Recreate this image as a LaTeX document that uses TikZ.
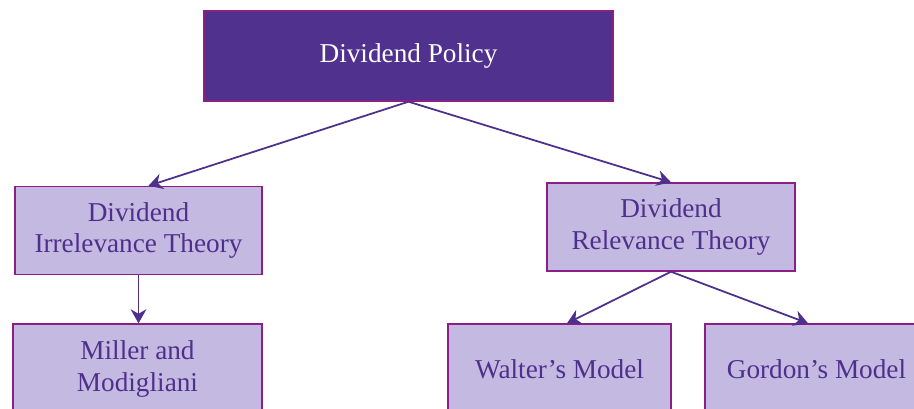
\documentclass[tikz,border=0pt]{standalone}
\usepackage{fontspec}
\setmainfont{Liberation Serif}
\usetikzlibrary{arrows.meta}
\definecolor{topfill}{HTML}{50318E}
\definecolor{boxfill}{HTML}{C4BAE1}
\definecolor{boxline}{HTML}{8A1F86}
\definecolor{inkpurple}{HTML}{4F2F8C}
\tikzset{
  topbox/.style = {draw=boxline, fill=topfill, text=white, line width=0.8pt,
    minimum width=8.18cm, minimum height=1.8cm, align=center, font=\fontsize{15.5}{18}\selectfont},
  subbox/.style = {draw=boxline, fill=boxfill, text=inkpurple, line width=0.8pt,
    minimum height=1.76cm, align=center, font=\fontsize{15.5}{18}\selectfont},
  link/.style = {draw=inkpurple, line width=1pt, -{Stealth[length=8pt,width=9pt]}}
}
\begin{document}
\begin{tikzpicture} [scale = 1]
\useasboundingbox (0.0, 0.0) rectangle (18.28, -8.18);
\clip (0.0, 0.0) rectangle (18.28, -8.18);
\node[topbox] (policy) at (8.17, -1.12){Dividend Policy};
\node[subbox, minimum width = 4.94cm] (irr) at (2.77, -4.61){Dividend\\Irrelevance Theory};
\node[subbox, minimum width = 4.96cm] (rel) at (13.42, -4.54){Dividend\\Relevance Theory};
\node[subbox, minimum width = 4.98cm, minimum height = 1.8cm] (mm) at (2.75, -7.38){Miller and\\Modigliani};
\node[subbox, minimum width = 4.46cm, minimum height = 1.8cm] (walter) at (11.19, -7.38){Walter's Model};
\node[subbox, minimum width = 4.46cm, minimum height = 1.8cm] (gordon) at (16.33, -7.38){Gordon's Model};
\draw[link] (policy.south) -- ([xshift = 0.2cm]irr.north);
\draw[link] (policy.south) -- (rel.north);
\draw[link] (irr.south) -- (irr.south |- mm.north);
\draw[link] (rel.south) -- ([xshift = 0.15cm]walter.north);
\draw[link] (rel.south) -- ([xshift = -0.17cm]gordon.north);
\end{tikzpicture}
\end{document}
